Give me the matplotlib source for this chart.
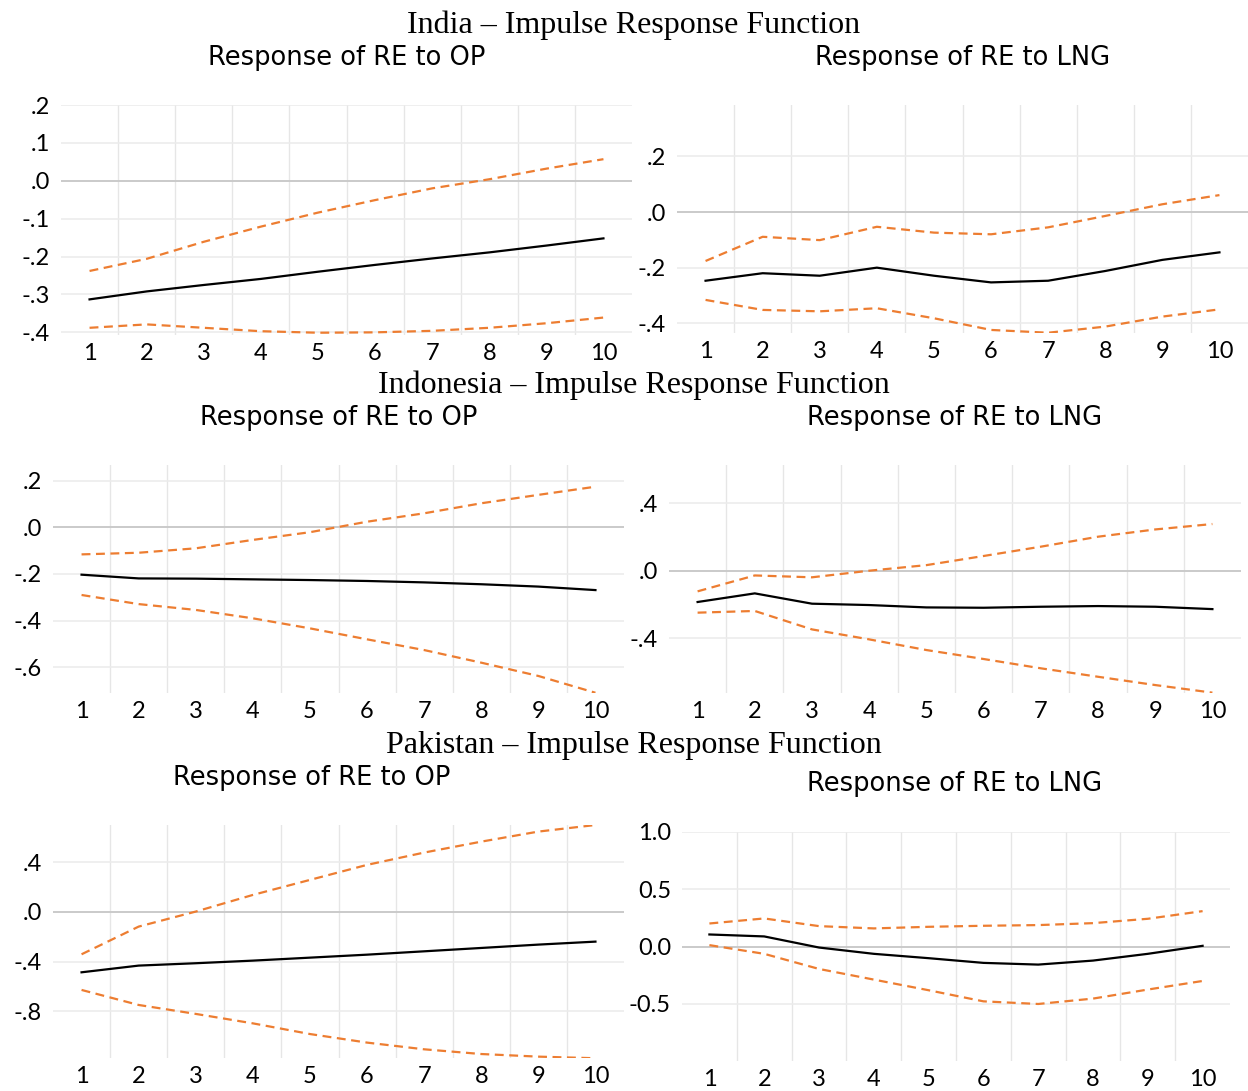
import matplotlib
matplotlib.use("Agg")
import matplotlib.pyplot as plt
import numpy as np

W, H = 1248, 1091

periods = list(range(1, 11))

# India
india_op = [-0.313, -0.292, -0.275, -0.259, -0.240, -0.222, -0.205, -0.189, -0.171, -0.152]
india_op_hi = [-0.238, -0.206, -0.161, -0.121, -0.084, -0.051, -0.020, 0.004, 0.032, 0.057]
india_op_lo = [-0.388, -0.379, -0.388, -0.397, -0.401, -0.400, -0.396, -0.388, -0.376, -0.361]

india_lng = [-0.247, -0.220, -0.229, -0.200, -0.229, -0.253, -0.247, -0.212, -0.172, -0.145]
india_lng_hi = [-0.176, -0.089, -0.101, -0.053, -0.074, -0.080, -0.055, -0.014, 0.028, 0.061]
india_lng_lo = [-0.316, -0.352, -0.357, -0.346, -0.382, -0.424, -0.434, -0.412, -0.376, -0.350]

# Indonesia
indo_op = [-0.203, -0.219, -0.220, -0.223, -0.226, -0.230, -0.236, -0.244, -0.254, -0.269]
indo_op_hi = [-0.116, -0.109, -0.090, -0.054, -0.021, 0.024, 0.060, 0.103, 0.139, 0.174]
indo_op_lo = [-0.290, -0.329, -0.354, -0.390, -0.433, -0.480, -0.526, -0.580, -0.637, -0.709]

indo_lng = [-0.185, -0.134, -0.195, -0.203, -0.217, -0.219, -0.213, -0.209, -0.213, -0.227]
indo_lng_hi = [-0.122, -0.028, -0.039, 0.000, 0.033, 0.087, 0.142, 0.201, 0.244, 0.276]
indo_lng_lo = [-0.248, -0.238, -0.347, -0.406, -0.469, -0.522, -0.577, -0.627, -0.676, -0.721]

# Pakistan
pak_op = [-0.486, -0.432, -0.413, -0.392, -0.368, -0.344, -0.317, -0.290, -0.263, -0.239]
pak_op_hi = [-0.341, -0.118, 0.003, 0.137, 0.258, 0.379, 0.478, 0.566, 0.647, 0.700]
pak_op_lo = [-0.628, -0.749, -0.821, -0.897, -0.983, -1.052, -1.106, -1.144, -1.165, -1.178]

pak_lng = [0.105, 0.088, -0.009, -0.064, -0.102, -0.143, -0.158, -0.123, -0.064, 0.006]
pak_lng_hi = [0.201, 0.245, 0.178, 0.158, 0.172, 0.181, 0.187, 0.204, 0.242, 0.309]
pak_lng_lo = [0.012, -0.064, -0.196, -0.289, -0.382, -0.479, -0.502, -0.455, -0.376, -0.301]

# y ticks and labels
ticks_india_op = [0.2, 0.1, 0.0, -0.1, -0.2, -0.3, -0.4]
labels_india_op = [".2", ".1", ".0", "-.1", "-.2", "-.3", "-.4"]
ticks_india_lng = [0.2, 0.0, -0.2, -0.4]
labels_india_lng = [".2", ".0", "-.2", "-.4"]
ticks_indo_op = [0.2, 0.0, -0.2, -0.4, -0.6]
labels_indo_op = [".2", ".0", "-.2", "-.4", "-.6"]
ticks_indo_lng = [0.4, 0.0, -0.4]
labels_indo_lng = [".4", ".0", "-.4"]
ticks_pak_op = [0.4, 0.0, -0.4, -0.8]
labels_pak_op = [".4", ".0", "-.4", "-.8"]
ticks_pak_lng = [1.0, 0.5, 0.0, -0.5]
labels_pak_lng = ["1.0", "0.5", "0.0", "-0.5"]

countries = ["India", "Indonesia", "Pakistan"]
sub_titles = ["Response of RE to OP", "Response of RE to LNG"]


def box(l, t, r, b):
    return [l / W, 1 - b / H, (r - l) / W, (b - t) / H]


fig = plt.figure(figsize=(W / 100, H / 100), dpi=100)

panels = [
    (box(61, 105, 632, 335), (-0.407, 0.2), india_op, india_op_hi, india_op_lo, ticks_india_op, labels_india_op),
    (box(677, 105, 1248, 333), (-0.435, 0.385), india_lng, india_lng_hi, india_lng_lo, ticks_india_lng, labels_india_lng),
    (box(53, 465, 624, 693), (-0.71, 0.267), indo_op, indo_op_hi, indo_op_lo, ticks_indo_op, labels_indo_op),
    (box(669, 465, 1241, 693), (-0.723, 0.625), indo_lng, indo_lng_hi, indo_lng_lo, ticks_indo_lng, labels_indo_lng),
    (box(53, 825, 624, 1058), (-1.176, 0.70), pak_op, pak_op_hi, pak_op_lo, ticks_pak_op, labels_pak_op),
    (box(682, 832, 1230, 1061), (-1.0, 1.0), pak_lng, pak_lng_hi, pak_lng_lo, ticks_pak_lng, labels_pak_lng),
]

tick_font = dict(family="Lato", size=17)

for rect, ylim, resp, hi, lo, yt, yl in panels:
    ax = fig.add_axes(rect)
    ax.set_xlim(0.5, 10.5)
    ax.set_ylim(*ylim)
    for s in ax.spines.values():
        s.set_visible(False)
    ax.set_xticks(periods)
    ax.set_xticklabels([str(p) for p in periods], fontdict=tick_font)
    ax.set_xticks(np.arange(1.5, 10, 1), minor=True)
    ax.set_yticks(yt)
    ax.set_yticklabels(yl, fontdict=tick_font)
    ax.tick_params(which="both", length=0)
    ax.tick_params(axis="x", pad=6)
    ax.tick_params(axis="y", pad=8)
    ax.grid(which="minor", axis="x", color="#e6e6e6", lw=1)
    ax.grid(which="major", axis="y", color="#ececec", lw=1.2)
    ax.axhline(0, color="#c4c4c4", lw=1.2, zorder=1)
    ax.set_axisbelow(True)
    ax.plot(periods, hi, color="#ed7d31", lw=1.6, ls=(0, (4, 2.5)), zorder=3)
    ax.plot(periods, lo, color="#ed7d31", lw=1.6, ls=(0, (4, 2.5)), zorder=3)
    ax.plot(periods, resp, color="black", lw=1.6, zorder=4)

row_y = [25, 385, 745]
sub_pos = [[(347, 58), (963, 58)], [(339, 418), (955, 418)], [(312, 778), (955, 784)]]
for i, c in enumerate(countries):
    fig.text(634 / W, 1 - row_y[i] / H, c + " \u2013 Impulse Response Function",
             family="Liberation Serif", size=23, ha="center", va="center")
    for j, t in enumerate(sub_titles):
        x, y = sub_pos[i][j]
        fig.text(x / W, 1 - y / H, t, family="DejaVu Sans", size=18.5,
                 ha="center", va="center")

fig.savefig("out.png", dpi=100)
